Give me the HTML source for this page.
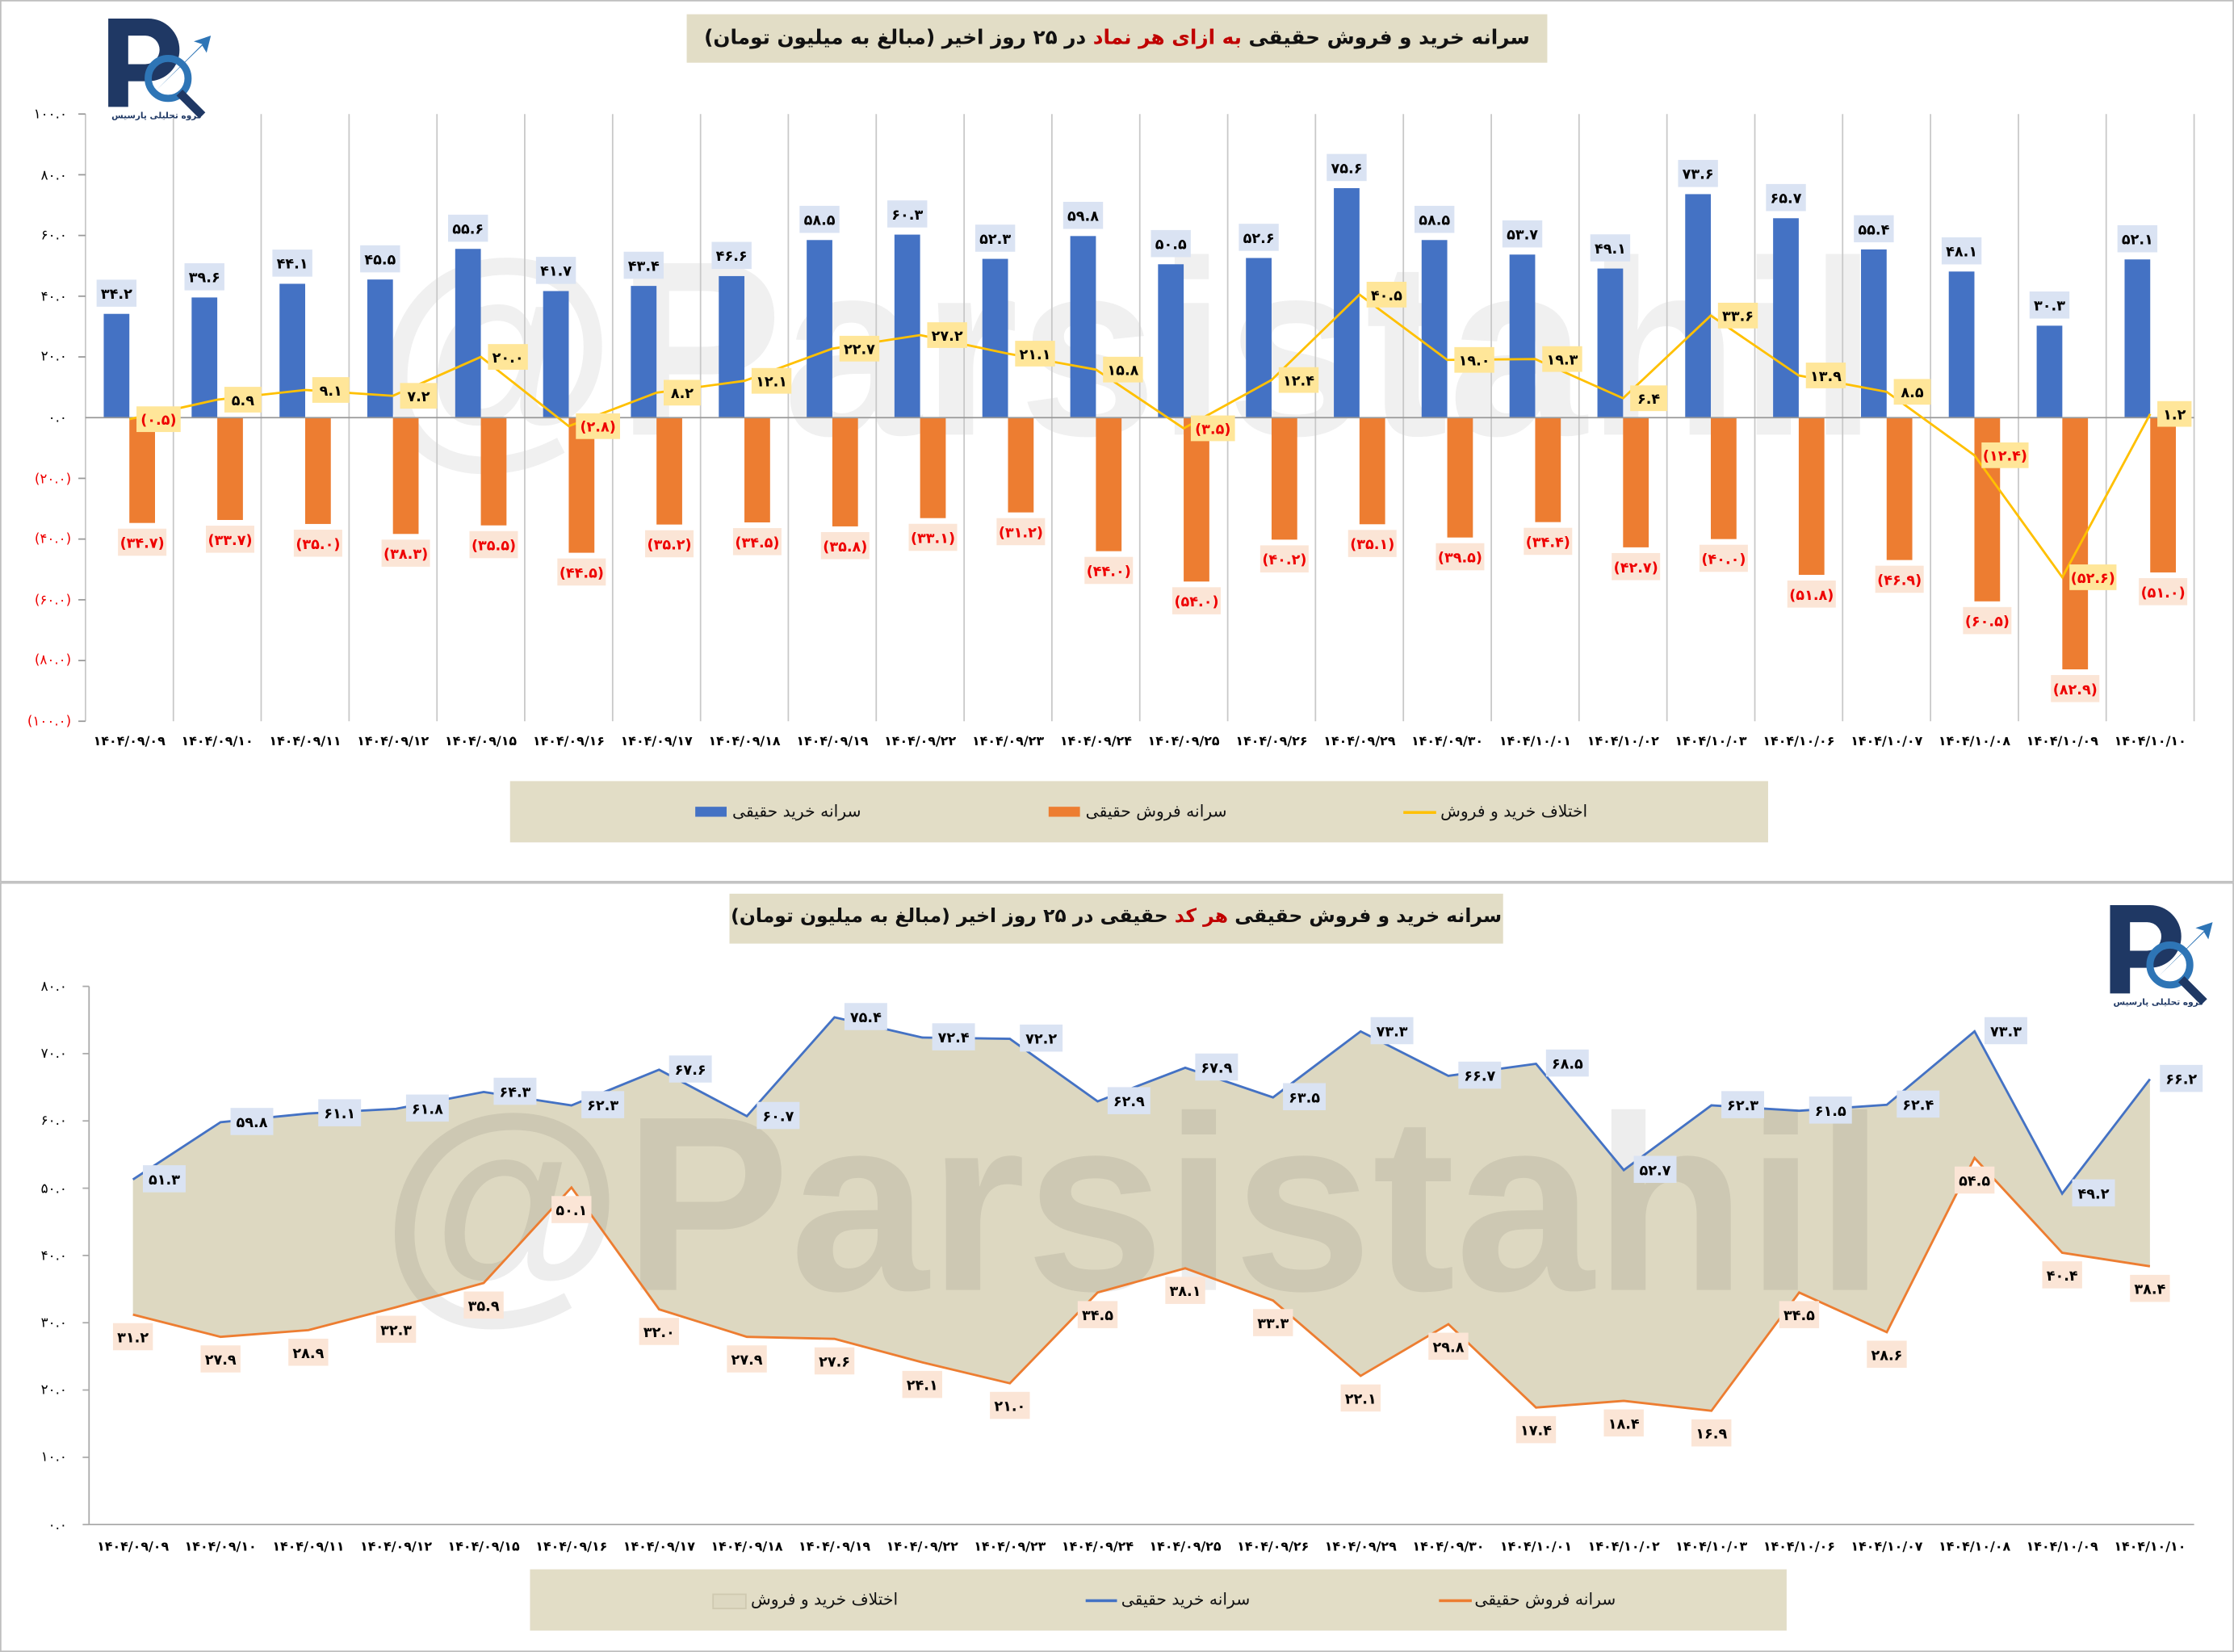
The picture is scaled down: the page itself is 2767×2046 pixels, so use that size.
<!DOCTYPE html>
<html><head><meta charset="utf-8">
<style>
html,body{margin:0;padding:0;background:#fff;}
#wrap{width:1568px;height:1159px;transform:scale(1.76467,1.76531);transform-origin:0 0;position:relative;overflow:hidden;font-family:"DejaVu Sans",sans-serif;}
svg{position:absolute;left:0;top:0;}
.t{font-family:"DejaVu Sans",sans-serif;font-weight:bold;font-size:10px;text-anchor:middle;}
.d{font-family:"DejaVu Sans",sans-serif;font-weight:bold;font-size:9px;text-anchor:middle;}
.y{font-family:"DejaVu Sans",sans-serif;font-size:9.5px;text-anchor:end;}
.title{position:absolute;background:#e2ddc6;direction:rtl;font-weight:bold;font-size:14px;white-space:nowrap;text-align:center;line-height:34px;color:#111;overflow:hidden;}
.title span{color:#c00000;}
.leg{position:absolute;background:#e2ddc6;}
.li{position:absolute;direction:rtl;font-size:11.5px;color:#111;top:0;line-height:43px;white-space:nowrap;}
</style></head><body><div id="wrap">
<svg width="1568" height="1159" viewBox="0 0 1568 1159">
<rect x="0.5" y="0.5" width="1567" height="618" fill="#fff" stroke="#bfbfbf"/>
<rect x="0.5" y="619.5" width="1567" height="539" fill="#fff" stroke="#bfbfbf"/>
<text x="790" y="305" font-family="Liberation Sans" font-weight="bold" font-size="175" text-anchor="middle" fill="#000" fill-opacity="0.06">@Parsistahil</text>
<g stroke="#c8c8c8" stroke-width="1">
<line x1="60" y1="80" x2="60" y2="506"/><line x1="121.7" y1="80" x2="121.7" y2="506"/><line x1="183.3" y1="80" x2="183.3" y2="506"/><line x1="245" y1="80" x2="245" y2="506"/><line x1="306.7" y1="80" x2="306.7" y2="506"/><line x1="368.3" y1="80" x2="368.3" y2="506"/><line x1="430" y1="80" x2="430" y2="506"/><line x1="491.7" y1="80" x2="491.7" y2="506"/><line x1="553.3" y1="80" x2="553.3" y2="506"/><line x1="615" y1="80" x2="615" y2="506"/><line x1="676.7" y1="80" x2="676.7" y2="506"/><line x1="738.3" y1="80" x2="738.3" y2="506"/><line x1="800" y1="80" x2="800" y2="506"/><line x1="861.7" y1="80" x2="861.7" y2="506"/><line x1="923.3" y1="80" x2="923.3" y2="506"/><line x1="985" y1="80" x2="985" y2="506"/><line x1="1046.7" y1="80" x2="1046.7" y2="506"/><line x1="1108.3" y1="80" x2="1108.3" y2="506"/><line x1="1170" y1="80" x2="1170" y2="506"/><line x1="1231.7" y1="80" x2="1231.7" y2="506"/><line x1="1293.3" y1="80" x2="1293.3" y2="506"/><line x1="1355" y1="80" x2="1355" y2="506"/><line x1="1416.7" y1="80" x2="1416.7" y2="506"/><line x1="1478.3" y1="80" x2="1478.3" y2="506"/><line x1="1540" y1="80" x2="1540" y2="506"/>
</g>
<g stroke="#999" stroke-width="1"><line x1="55" y1="80" x2="60" y2="80"/><line x1="55" y1="122.6" x2="60" y2="122.6"/><line x1="55" y1="165.2" x2="60" y2="165.2"/><line x1="55" y1="207.8" x2="60" y2="207.8"/><line x1="55" y1="250.4" x2="60" y2="250.4"/><line x1="55" y1="335.6" x2="60" y2="335.6"/><line x1="55" y1="378.2" x2="60" y2="378.2"/><line x1="55" y1="420.8" x2="60" y2="420.8"/><line x1="55" y1="463.4" x2="60" y2="463.4"/><line x1="55" y1="506" x2="60" y2="506"/></g>
<g>
<text class="y" x="47" y="83">۱۰۰.۰</text><text class="y" x="47" y="126">۸۰.۰</text><text class="y" x="47" y="168">۶۰.۰</text><text class="y" x="47" y="211">۴۰.۰</text><text class="y" x="47" y="253">۲۰.۰</text><text class="y" x="47" y="296">۰.۰</text>
<text class="y" x="50" y="339" fill="#e00">(۲۰.۰)</text><text class="y" x="50" y="381" fill="#e00">(۴۰.۰)</text><text class="y" x="50" y="424" fill="#e00">(۶۰.۰)</text><text class="y" x="50" y="466" fill="#e00">(۸۰.۰)</text><text class="y" x="50" y="509" fill="#e00">(۱۰۰.۰)</text>
</g>
<g fill="#4472c4">
<rect x="72.8" y="220.2" width="18" height="72.8"/><rect x="134.5" y="208.7" width="18" height="84.3"/><rect x="196.2" y="199.1" width="18" height="93.9"/><rect x="257.8" y="196.1" width="18" height="96.9"/><rect x="319.5" y="174.6" width="18" height="118.4"/><rect x="381.2" y="204.2" width="18" height="88.8"/><rect x="442.8" y="200.6" width="18" height="92.4"/><rect x="504.5" y="193.7" width="18" height="99.3"/><rect x="566.2" y="168.4" width="18" height="124.6"/><rect x="627.8" y="164.6" width="18" height="128.4"/><rect x="689.5" y="181.6" width="18" height="111.4"/><rect x="751.2" y="165.6" width="18" height="127.4"/><rect x="812.8" y="185.4" width="18" height="107.6"/><rect x="874.5" y="181" width="18" height="112"/><rect x="936.2" y="132" width="18" height="161"/><rect x="997.8" y="168.4" width="18" height="124.6"/><rect x="1059.5" y="178.6" width="18" height="114.4"/><rect x="1121.2" y="188.4" width="18" height="104.6"/><rect x="1182.8" y="136.2" width="18" height="156.8"/><rect x="1244.5" y="153.1" width="18" height="139.9"/><rect x="1306.2" y="175" width="18" height="118"/><rect x="1367.8" y="190.5" width="18" height="102.5"/><rect x="1429.5" y="228.5" width="18" height="64.5"/><rect x="1491.2" y="182" width="18" height="111"/>
</g>
<g fill="#ed7d31">
<rect x="90.8" y="293" width="18" height="73.9"/><rect x="152.5" y="293" width="18" height="71.8"/><rect x="214.2" y="293" width="18" height="74.6"/><rect x="275.8" y="293" width="18" height="81.6"/><rect x="337.5" y="293" width="18" height="75.6"/><rect x="399.2" y="293" width="18" height="94.8"/><rect x="460.8" y="293" width="18" height="75"/><rect x="522.5" y="293" width="18" height="73.5"/><rect x="584.2" y="293" width="18" height="76.3"/><rect x="645.8" y="293" width="18" height="70.5"/><rect x="707.5" y="293" width="18" height="66.5"/><rect x="769.2" y="293" width="18" height="93.7"/><rect x="830.8" y="293" width="18" height="115"/><rect x="892.5" y="293" width="18" height="85.6"/><rect x="954.2" y="293" width="18" height="74.8"/><rect x="1015.8" y="293" width="18" height="84.1"/><rect x="1077.5" y="293" width="18" height="73.3"/><rect x="1139.2" y="293" width="18" height="91"/><rect x="1200.8" y="293" width="18" height="85.2"/><rect x="1262.5" y="293" width="18" height="110.3"/><rect x="1324.2" y="293" width="18" height="99.9"/><rect x="1385.8" y="293" width="18" height="128.9"/><rect x="1447.5" y="293" width="18" height="176.6"/><rect x="1509.2" y="293" width="18" height="108.6"/>
</g>
<line x1="60" y1="293" x2="1540" y2="293" stroke="#999"/>
<polyline fill="none" stroke="#ffc000" stroke-width="1.6" points="90.8,294.1 152.5,280.4 214.2,273.6 275.8,277.7 337.5,250.4 399.2,299 460.8,275.5 522.5,267.2 584.2,244.6 645.8,235.1 707.5,248.1 769.2,259.3 830.8,300.5 892.5,266.6 954.2,206.7 1015.8,252.5 1077.5,251.9 1139.2,279.4 1200.8,221.4 1262.5,263.4 1324.2,274.9 1385.8,319.4 1447.5,405 1509.2,290.4"/>
<g transform="translate(90.8,0)"><rect x="-23" y="196.2" width="28" height="19" fill="#dae3f3"/><text class="t" x="-9" y="209.5">۳۴.۲</text><rect x="-8" y="370.9" width="34" height="19" fill="#fbe5d6"/><text class="t" x="9" y="384.5" fill="#e00">(۳۴.۷)</text><rect x="5" y="285.1" width="31" height="18" fill="#ffe699"/><text class="t" x="20.5" y="298" fill="#e00">(۰.۵)</text></g>
<g transform="translate(152.5,0)"><rect x="-23" y="184.7" width="28" height="19" fill="#dae3f3"/><text class="t" x="-9" y="198">۳۹.۶</text><rect x="-8" y="368.8" width="34" height="19" fill="#fbe5d6"/><text class="t" x="9" y="382.5" fill="#e00">(۳۳.۷)</text><rect x="5" y="271.4" width="26" height="18" fill="#ffe699"/><text class="t" x="18" y="284.3">۵.۹</text></g>
<g transform="translate(214.2,0)"><rect x="-23" y="175.1" width="28" height="19" fill="#dae3f3"/><text class="t" x="-9" y="188.5">۴۴.۱</text><rect x="-8" y="371.6" width="34" height="19" fill="#fbe5d6"/><text class="t" x="9" y="385.1" fill="#e00">(۳۵.۰)</text><rect x="5" y="264.6" width="26" height="18" fill="#ffe699"/><text class="t" x="18" y="277.5">۹.۱</text></g>
<g transform="translate(275.8,0)"><rect x="-23" y="172.1" width="28" height="19" fill="#dae3f3"/><text class="t" x="-9" y="185.5">۴۵.۵</text><rect x="-8" y="378.6" width="34" height="19" fill="#fbe5d6"/><text class="t" x="9" y="392.1" fill="#e00">(۳۸.۳)</text><rect x="5" y="268.7" width="26" height="18" fill="#ffe699"/><text class="t" x="18" y="281.5">۷.۲</text></g>
<g transform="translate(337.5,0)"><rect x="-23" y="150.6" width="28" height="19" fill="#dae3f3"/><text class="t" x="-9" y="164">۵۵.۶</text><rect x="-8" y="372.6" width="34" height="19" fill="#fbe5d6"/><text class="t" x="9" y="386.1" fill="#e00">(۳۵.۵)</text><rect x="5" y="241.4" width="28" height="18" fill="#ffe699"/><text class="t" x="19" y="254.3">۲۰.۰</text></g>
<g transform="translate(399.2,0)"><rect x="-23" y="180.2" width="28" height="19" fill="#dae3f3"/><text class="t" x="-9" y="193.5">۴۱.۷</text><rect x="-8" y="391.8" width="34" height="19" fill="#fbe5d6"/><text class="t" x="9" y="405.3" fill="#e00">(۴۴.۵)</text><rect x="5" y="290" width="31" height="18" fill="#ffe699"/><text class="t" x="20.5" y="302.9" fill="#e00">(۲.۸)</text></g>
<g transform="translate(460.8,0)"><rect x="-23" y="176.6" width="28" height="19" fill="#dae3f3"/><text class="t" x="-9" y="190">۴۳.۴</text><rect x="-8" y="372" width="34" height="19" fill="#fbe5d6"/><text class="t" x="9" y="385.5" fill="#e00">(۳۵.۲)</text><rect x="5" y="266.5" width="26" height="18" fill="#ffe699"/><text class="t" x="18" y="279.4">۸.۲</text></g>
<g transform="translate(522.5,0)"><rect x="-23" y="169.7" width="28" height="19" fill="#dae3f3"/><text class="t" x="-9" y="183">۴۶.۶</text><rect x="-8" y="370.5" width="34" height="19" fill="#fbe5d6"/><text class="t" x="9" y="384" fill="#e00">(۳۴.۵)</text><rect x="5" y="258.2" width="28" height="18" fill="#ffe699"/><text class="t" x="19" y="271.1">۱۲.۱</text></g>
<g transform="translate(584.2,0)"><rect x="-23" y="144.4" width="28" height="19" fill="#dae3f3"/><text class="t" x="-9" y="157.8">۵۸.۵</text><rect x="-8" y="373.3" width="34" height="19" fill="#fbe5d6"/><text class="t" x="9" y="386.8" fill="#e00">(۳۵.۸)</text><rect x="5" y="235.6" width="28" height="18" fill="#ffe699"/><text class="t" x="19" y="248.5">۲۲.۷</text></g>
<g transform="translate(645.8,0)"><rect x="-23" y="140.6" width="28" height="19" fill="#dae3f3"/><text class="t" x="-9" y="154">۶۰.۳</text><rect x="-8" y="367.5" width="34" height="19" fill="#fbe5d6"/><text class="t" x="9" y="381" fill="#e00">(۳۳.۱)</text><rect x="5" y="226.1" width="28" height="18" fill="#ffe699"/><text class="t" x="19" y="239">۲۷.۲</text></g>
<g transform="translate(707.5,0)"><rect x="-23" y="157.6" width="28" height="19" fill="#dae3f3"/><text class="t" x="-9" y="171">۵۲.۳</text><rect x="-8" y="363.5" width="34" height="19" fill="#fbe5d6"/><text class="t" x="9" y="377" fill="#e00">(۳۱.۲)</text><rect x="5" y="239.1" width="28" height="18" fill="#ffe699"/><text class="t" x="19" y="252">۲۱.۱</text></g>
<g transform="translate(769.2,0)"><rect x="-23" y="141.6" width="28" height="19" fill="#dae3f3"/><text class="t" x="-9" y="155">۵۹.۸</text><rect x="-8" y="390.7" width="34" height="19" fill="#fbe5d6"/><text class="t" x="9" y="404.2" fill="#e00">(۴۴.۰)</text><rect x="5" y="250.3" width="28" height="18" fill="#ffe699"/><text class="t" x="19" y="263.2">۱۵.۸</text></g>
<g transform="translate(830.8,0)"><rect x="-23" y="161.4" width="28" height="19" fill="#dae3f3"/><text class="t" x="-9" y="174.8">۵۰.۵</text><rect x="-8" y="412" width="34" height="19" fill="#fbe5d6"/><text class="t" x="9" y="425.5" fill="#e00">(۵۴.۰)</text><rect x="5" y="291.5" width="31" height="18" fill="#ffe699"/><text class="t" x="20.5" y="304.4" fill="#e00">(۳.۵)</text></g>
<g transform="translate(892.5,0)"><rect x="-23" y="157" width="28" height="19" fill="#dae3f3"/><text class="t" x="-9" y="170.5">۵۲.۶</text><rect x="-8" y="382.6" width="34" height="19" fill="#fbe5d6"/><text class="t" x="9" y="396.1" fill="#e00">(۴۰.۲)</text><rect x="5" y="257.6" width="28" height="18" fill="#ffe699"/><text class="t" x="19" y="270.5">۱۲.۴</text></g>
<g transform="translate(954.2,0)"><rect x="-23" y="108" width="28" height="19" fill="#dae3f3"/><text class="t" x="-9" y="121.5">۷۵.۶</text><rect x="-8" y="371.8" width="34" height="19" fill="#fbe5d6"/><text class="t" x="9" y="385.3" fill="#e00">(۳۵.۱)</text><rect x="5" y="197.7" width="28" height="18" fill="#ffe699"/><text class="t" x="19" y="210.6">۴۰.۵</text></g>
<g transform="translate(1015.8,0)"><rect x="-23" y="144.4" width="28" height="19" fill="#dae3f3"/><text class="t" x="-9" y="157.8">۵۸.۵</text><rect x="-8" y="381.1" width="34" height="19" fill="#fbe5d6"/><text class="t" x="9" y="394.6" fill="#e00">(۳۹.۵)</text><rect x="5" y="243.5" width="28" height="18" fill="#ffe699"/><text class="t" x="19" y="256.4">۱۹.۰</text></g>
<g transform="translate(1077.5,0)"><rect x="-23" y="154.6" width="28" height="19" fill="#dae3f3"/><text class="t" x="-9" y="168">۵۳.۷</text><rect x="-8" y="370.3" width="34" height="19" fill="#fbe5d6"/><text class="t" x="9" y="383.8" fill="#e00">(۳۴.۴)</text><rect x="5" y="242.9" width="28" height="18" fill="#ffe699"/><text class="t" x="19" y="255.8">۱۹.۳</text></g>
<g transform="translate(1139.2,0)"><rect x="-23" y="164.4" width="28" height="19" fill="#dae3f3"/><text class="t" x="-9" y="177.8">۴۹.۱</text><rect x="-8" y="388" width="34" height="19" fill="#fbe5d6"/><text class="t" x="9" y="401.5" fill="#e00">(۴۲.۷)</text><rect x="5" y="270.4" width="26" height="18" fill="#ffe699"/><text class="t" x="18" y="283.3">۶.۴</text></g>
<g transform="translate(1200.8,0)"><rect x="-23" y="112.2" width="28" height="19" fill="#dae3f3"/><text class="t" x="-9" y="125.5">۷۳.۶</text><rect x="-8" y="382.2" width="34" height="19" fill="#fbe5d6"/><text class="t" x="9" y="395.7" fill="#e00">(۴۰.۰)</text><rect x="5" y="212.4" width="28" height="18" fill="#ffe699"/><text class="t" x="19" y="225.3">۳۳.۶</text></g>
<g transform="translate(1262.5,0)"><rect x="-23" y="129.1" width="28" height="19" fill="#dae3f3"/><text class="t" x="-9" y="142.5">۶۵.۷</text><rect x="-8" y="407.3" width="34" height="19" fill="#fbe5d6"/><text class="t" x="9" y="420.8" fill="#e00">(۵۱.۸)</text><rect x="5" y="254.4" width="28" height="18" fill="#ffe699"/><text class="t" x="19" y="267.3">۱۳.۹</text></g>
<g transform="translate(1324.2,0)"><rect x="-23" y="151" width="28" height="19" fill="#dae3f3"/><text class="t" x="-9" y="164.5">۵۵.۴</text><rect x="-8" y="396.9" width="34" height="19" fill="#fbe5d6"/><text class="t" x="9" y="410.4" fill="#e00">(۴۶.۹)</text><rect x="5" y="265.9" width="26" height="18" fill="#ffe699"/><text class="t" x="18" y="278.8">۸.۵</text></g>
<g transform="translate(1385.8,0)"><rect x="-23" y="166.5" width="28" height="19" fill="#dae3f3"/><text class="t" x="-9" y="179.9">۴۸.۱</text><rect x="-8" y="425.9" width="34" height="19" fill="#fbe5d6"/><text class="t" x="9" y="439.4" fill="#e00">(۶۰.۵)</text><rect x="5" y="310.4" width="33" height="18" fill="#ffe699"/><text class="t" x="21.5" y="323.3" fill="#e00">(۱۲.۴)</text></g>
<g transform="translate(1447.5,0)"><rect x="-23" y="204.5" width="28" height="19" fill="#dae3f3"/><text class="t" x="-9" y="217.9">۳۰.۳</text><rect x="-8" y="473.6" width="34" height="19" fill="#fbe5d6"/><text class="t" x="9" y="487.1" fill="#e00">(۸۲.۹)</text><rect x="5" y="396" width="33" height="18" fill="#ffe699"/><text class="t" x="21.5" y="408.9" fill="#e00">(۵۲.۶)</text></g>
<g transform="translate(1509.2,0)"><rect x="-23" y="158" width="28" height="19" fill="#dae3f3"/><text class="t" x="-9" y="171.5">۵۲.۱</text><rect x="-8" y="405.6" width="34" height="19" fill="#fbe5d6"/><text class="t" x="9" y="419.1" fill="#e00">(۵۱.۰)</text><rect x="5" y="281.4" width="24" height="18" fill="#ffe699"/><text class="t" x="17" y="294.3">۱.۲</text></g>
<g>
<text class="d" x="90.8" y="523">۱۴۰۴/۰۹/۰۹</text><text class="d" x="152.5" y="523">۱۴۰۴/۰۹/۱۰</text><text class="d" x="214.2" y="523">۱۴۰۴/۰۹/۱۱</text><text class="d" x="275.8" y="523">۱۴۰۴/۰۹/۱۲</text><text class="d" x="337.5" y="523">۱۴۰۴/۰۹/۱۵</text><text class="d" x="399.2" y="523">۱۴۰۴/۰۹/۱۶</text><text class="d" x="460.8" y="523">۱۴۰۴/۰۹/۱۷</text><text class="d" x="522.5" y="523">۱۴۰۴/۰۹/۱۸</text><text class="d" x="584.2" y="523">۱۴۰۴/۰۹/۱۹</text><text class="d" x="645.8" y="523">۱۴۰۴/۰۹/۲۲</text><text class="d" x="707.5" y="523">۱۴۰۴/۰۹/۲۳</text><text class="d" x="769.2" y="523">۱۴۰۴/۰۹/۲۴</text><text class="d" x="830.8" y="523">۱۴۰۴/۰۹/۲۵</text><text class="d" x="892.5" y="523">۱۴۰۴/۰۹/۲۶</text><text class="d" x="954.2" y="523">۱۴۰۴/۰۹/۲۹</text><text class="d" x="1015.8" y="523">۱۴۰۴/۰۹/۳۰</text><text class="d" x="1077.5" y="523">۱۴۰۴/۱۰/۰۱</text><text class="d" x="1139.2" y="523">۱۴۰۴/۱۰/۰۲</text><text class="d" x="1200.8" y="523">۱۴۰۴/۱۰/۰۳</text><text class="d" x="1262.5" y="523">۱۴۰۴/۱۰/۰۶</text><text class="d" x="1324.2" y="523">۱۴۰۴/۱۰/۰۷</text><text class="d" x="1385.8" y="523">۱۴۰۴/۱۰/۰۸</text><text class="d" x="1447.5" y="523">۱۴۰۴/۱۰/۰۹</text><text class="d" x="1509.2" y="523">۱۴۰۴/۱۰/۱۰</text>
</g>

<polygon fill="#ddd8c1" points="93.3,827.5 154.8,787.3 216.4,781.2 278,777.9 339.5,766.1 401.1,775.5 462.6,750.5 524.2,783.1 585.7,713.7 647.3,727.9 708.8,728.8 770.4,772.7 831.9,749.1 893.5,769.9 955,723.6 1016.6,754.8 1078.1,746.3 1139.7,820.9 1201.2,775.5 1262.8,779.3 1324.3,775.1 1385.9,723.6 1447.4,837.4 1509,757.1 1509,888.4 1447.4,878.9 1385.9,812.4 1324.3,934.6 1262.8,906.8 1201.2,989.8 1139.7,982.8 1078.1,987.5 1016.6,929 955,965.3 893.5,912.4 831.9,889.8 770.4,906.8 708.8,970.5 647.3,955.8 585.7,939.3 524.2,937.9 462.6,918.6 401.1,833.1 339.5,900.1 278,917.1 216.4,933.2 154.8,937.9 93.3,922.3"/>
<text x="795" y="905" font-family="Liberation Sans" font-weight="bold" font-size="175" text-anchor="middle" fill="#000" fill-opacity="0.07">@Parsistahil</text>
<polyline fill="none" stroke="#4472c4" stroke-width="1.6" points="93.3,827.5 154.8,787.3 216.4,781.2 278,777.9 339.5,766.1 401.1,775.5 462.6,750.5 524.2,783.1 585.7,713.7 647.3,727.9 708.8,728.8 770.4,772.7 831.9,749.1 893.5,769.9 955,723.6 1016.6,754.8 1078.1,746.3 1139.7,820.9 1201.2,775.5 1262.8,779.3 1324.3,775.1 1385.9,723.6 1447.4,837.4 1509,757.1"/>
<polyline fill="none" stroke="#ed7d31" stroke-width="1.6" points="93.3,922.3 154.8,937.9 216.4,933.2 278,917.1 339.5,900.1 401.1,833.1 462.6,918.6 524.2,937.9 585.7,939.3 647.3,955.8 708.8,970.5 770.4,906.8 831.9,889.8 893.5,912.4 955,965.3 1016.6,929 1078.1,987.5 1139.7,982.8 1201.2,989.8 1262.8,906.8 1324.3,934.6 1385.9,812.4 1447.4,878.9 1509,888.4"/>
<g stroke="#aaa"><line x1="62.5" y1="692" x2="62.5" y2="1069.6"/><line x1="62.5" y1="1069.6" x2="1540" y2="1069.6"/>
<line x1="58" y1="692" x2="62.5" y2="692"/><line x1="58" y1="739.2" x2="62.5" y2="739.2"/><line x1="58" y1="786.4" x2="62.5" y2="786.4"/><line x1="58" y1="833.6" x2="62.5" y2="833.6"/><line x1="58" y1="880.8" x2="62.5" y2="880.8"/><line x1="58" y1="928" x2="62.5" y2="928"/><line x1="58" y1="975.2" x2="62.5" y2="975.2"/><line x1="58" y1="1022.4" x2="62.5" y2="1022.4"/><line x1="58" y1="1069.6" x2="62.5" y2="1069.6"/></g>
<g>
<text class="y" x="47" y="695">۸۰.۰</text><text class="y" x="47" y="742">۷۰.۰</text><text class="y" x="47" y="789">۶۰.۰</text><text class="y" x="47" y="837">۵۰.۰</text><text class="y" x="47" y="884">۴۰.۰</text><text class="y" x="47" y="931">۳۰.۰</text><text class="y" x="47" y="978">۲۰.۰</text><text class="y" x="47" y="1025">۱۰.۰</text><text class="y" x="47" y="1073">۰.۰</text>
</g>
<g transform="translate(93.3,0)"><rect x="7" y="817.5" width="30" height="19" fill="#dae3f3"/><text class="t" x="22" y="831">۵۱.۳</text><rect x="-14" y="928.3" width="28" height="19" fill="#fbe5d6"/><text class="t" x="0" y="941.8">۳۱.۲</text></g>
<g transform="translate(154.8,0)"><rect x="7" y="777.3" width="30" height="19" fill="#dae3f3"/><text class="t" x="22" y="790.8">۵۹.۸</text><rect x="-14" y="943.9" width="28" height="19" fill="#fbe5d6"/><text class="t" x="0" y="957.4">۲۷.۹</text></g>
<g transform="translate(216.4,0)"><rect x="7" y="771.2" width="30" height="19" fill="#dae3f3"/><text class="t" x="22" y="784.7">۶۱.۱</text><rect x="-14" y="939.2" width="28" height="19" fill="#fbe5d6"/><text class="t" x="0" y="952.7">۲۸.۹</text></g>
<g transform="translate(278,0)"><rect x="7" y="767.9" width="30" height="19" fill="#dae3f3"/><text class="t" x="22" y="781.4">۶۱.۸</text><rect x="-14" y="923.1" width="28" height="19" fill="#fbe5d6"/><text class="t" x="0" y="936.6">۳۲.۳</text></g>
<g transform="translate(339.5,0)"><rect x="7" y="756.1" width="30" height="19" fill="#dae3f3"/><text class="t" x="22" y="769.6">۶۴.۳</text><rect x="-14" y="906.1" width="28" height="19" fill="#fbe5d6"/><text class="t" x="0" y="919.6">۳۵.۹</text></g>
<g transform="translate(401.1,0)"><rect x="7" y="765.5" width="30" height="19" fill="#dae3f3"/><text class="t" x="22" y="779">۶۲.۳</text><rect x="-14" y="839.1" width="28" height="19" fill="#fbe5d6"/><text class="t" x="0" y="852.6">۵۰.۱</text></g>
<g transform="translate(462.6,0)"><rect x="7" y="740.5" width="30" height="19" fill="#dae3f3"/><text class="t" x="22" y="754">۶۷.۶</text><rect x="-14" y="924.6" width="28" height="19" fill="#fbe5d6"/><text class="t" x="0" y="938.1">۳۲.۰</text></g>
<g transform="translate(524.2,0)"><rect x="7" y="773.1" width="30" height="19" fill="#dae3f3"/><text class="t" x="22" y="786.6">۶۰.۷</text><rect x="-14" y="943.9" width="28" height="19" fill="#fbe5d6"/><text class="t" x="0" y="957.4">۲۷.۹</text></g>
<g transform="translate(585.7,0)"><rect x="7" y="703.7" width="30" height="19" fill="#dae3f3"/><text class="t" x="22" y="717.2">۷۵.۴</text><rect x="-14" y="945.3" width="28" height="19" fill="#fbe5d6"/><text class="t" x="0" y="958.8">۲۷.۶</text></g>
<g transform="translate(647.3,0)"><rect x="7" y="717.9" width="30" height="19" fill="#dae3f3"/><text class="t" x="22" y="731.4">۷۲.۴</text><rect x="-14" y="961.8" width="28" height="19" fill="#fbe5d6"/><text class="t" x="0" y="975.3">۲۴.۱</text></g>
<g transform="translate(708.8,0)"><rect x="7" y="718.8" width="30" height="19" fill="#dae3f3"/><text class="t" x="22" y="732.3">۷۲.۲</text><rect x="-14" y="976.5" width="28" height="19" fill="#fbe5d6"/><text class="t" x="0" y="990">۲۱.۰</text></g>
<g transform="translate(770.4,0)"><rect x="7" y="762.7" width="30" height="19" fill="#dae3f3"/><text class="t" x="22" y="776.2">۶۲.۹</text><rect x="-14" y="912.8" width="28" height="19" fill="#fbe5d6"/><text class="t" x="0" y="926.3">۳۴.۵</text></g>
<g transform="translate(831.9,0)"><rect x="7" y="739.1" width="30" height="19" fill="#dae3f3"/><text class="t" x="22" y="752.6">۶۷.۹</text><rect x="-14" y="895.8" width="28" height="19" fill="#fbe5d6"/><text class="t" x="0" y="909.3">۳۸.۱</text></g>
<g transform="translate(893.5,0)"><rect x="7" y="759.9" width="30" height="19" fill="#dae3f3"/><text class="t" x="22" y="773.4">۶۳.۵</text><rect x="-14" y="918.4" width="28" height="19" fill="#fbe5d6"/><text class="t" x="0" y="931.9">۳۳.۳</text></g>
<g transform="translate(955,0)"><rect x="7" y="713.6" width="30" height="19" fill="#dae3f3"/><text class="t" x="22" y="727.1">۷۳.۳</text><rect x="-14" y="971.3" width="28" height="19" fill="#fbe5d6"/><text class="t" x="0" y="984.8">۲۲.۱</text></g>
<g transform="translate(1016.6,0)"><rect x="7" y="744.8" width="30" height="19" fill="#dae3f3"/><text class="t" x="22" y="758.3">۶۶.۷</text><rect x="-14" y="935" width="28" height="19" fill="#fbe5d6"/><text class="t" x="0" y="948.5">۲۹.۸</text></g>
<g transform="translate(1078.1,0)"><rect x="7" y="736.3" width="30" height="19" fill="#dae3f3"/><text class="t" x="22" y="749.8">۶۸.۵</text><rect x="-14" y="993.5" width="28" height="19" fill="#fbe5d6"/><text class="t" x="0" y="1007">۱۷.۴</text></g>
<g transform="translate(1139.7,0)"><rect x="7" y="810.9" width="30" height="19" fill="#dae3f3"/><text class="t" x="22" y="824.4">۵۲.۷</text><rect x="-14" y="988.8" width="28" height="19" fill="#fbe5d6"/><text class="t" x="0" y="1002.3">۱۸.۴</text></g>
<g transform="translate(1201.2,0)"><rect x="7" y="765.5" width="30" height="19" fill="#dae3f3"/><text class="t" x="22" y="779">۶۲.۳</text><rect x="-14" y="995.8" width="28" height="19" fill="#fbe5d6"/><text class="t" x="0" y="1009.3">۱۶.۹</text></g>
<g transform="translate(1262.8,0)"><rect x="7" y="769.3" width="30" height="19" fill="#dae3f3"/><text class="t" x="22" y="782.8">۶۱.۵</text><rect x="-14" y="912.8" width="28" height="19" fill="#fbe5d6"/><text class="t" x="0" y="926.3">۳۴.۵</text></g>
<g transform="translate(1324.3,0)"><rect x="7" y="765.1" width="30" height="19" fill="#dae3f3"/><text class="t" x="22" y="778.6">۶۲.۴</text><rect x="-14" y="940.6" width="28" height="19" fill="#fbe5d6"/><text class="t" x="0" y="954.1">۲۸.۶</text></g>
<g transform="translate(1385.9,0)"><rect x="7" y="713.6" width="30" height="19" fill="#dae3f3"/><text class="t" x="22" y="727.1">۷۳.۳</text><rect x="-14" y="818.4" width="28" height="19" fill="#fbe5d6"/><text class="t" x="0" y="831.9">۵۴.۵</text></g>
<g transform="translate(1447.4,0)"><rect x="7" y="827.4" width="30" height="19" fill="#dae3f3"/><text class="t" x="22" y="840.9">۴۹.۲</text><rect x="-14" y="884.9" width="28" height="19" fill="#fbe5d6"/><text class="t" x="0" y="898.4">۴۰.۴</text></g>
<g transform="translate(1509,0)"><rect x="7" y="747.1" width="30" height="19" fill="#dae3f3"/><text class="t" x="22" y="760.6">۶۶.۲</text><rect x="-14" y="894.4" width="28" height="19" fill="#fbe5d6"/><text class="t" x="0" y="907.9">۳۸.۴</text></g>
<g>
<text class="d" x="93.3" y="1088">۱۴۰۴/۰۹/۰۹</text><text class="d" x="154.8" y="1088">۱۴۰۴/۰۹/۱۰</text><text class="d" x="216.4" y="1088">۱۴۰۴/۰۹/۱۱</text><text class="d" x="278" y="1088">۱۴۰۴/۰۹/۱۲</text><text class="d" x="339.5" y="1088">۱۴۰۴/۰۹/۱۵</text><text class="d" x="401.1" y="1088">۱۴۰۴/۰۹/۱۶</text><text class="d" x="462.6" y="1088">۱۴۰۴/۰۹/۱۷</text><text class="d" x="524.2" y="1088">۱۴۰۴/۰۹/۱۸</text><text class="d" x="585.7" y="1088">۱۴۰۴/۰۹/۱۹</text><text class="d" x="647.3" y="1088">۱۴۰۴/۰۹/۲۲</text><text class="d" x="708.8" y="1088">۱۴۰۴/۰۹/۲۳</text><text class="d" x="770.4" y="1088">۱۴۰۴/۰۹/۲۴</text><text class="d" x="831.9" y="1088">۱۴۰۴/۰۹/۲۵</text><text class="d" x="893.5" y="1088">۱۴۰۴/۰۹/۲۶</text><text class="d" x="955" y="1088">۱۴۰۴/۰۹/۲۹</text><text class="d" x="1016.6" y="1088">۱۴۰۴/۰۹/۳۰</text><text class="d" x="1078.1" y="1088">۱۴۰۴/۱۰/۰۱</text><text class="d" x="1139.7" y="1088">۱۴۰۴/۱۰/۰۲</text><text class="d" x="1201.2" y="1088">۱۴۰۴/۱۰/۰۳</text><text class="d" x="1262.8" y="1088">۱۴۰۴/۱۰/۰۶</text><text class="d" x="1324.3" y="1088">۱۴۰۴/۱۰/۰۷</text><text class="d" x="1385.9" y="1088">۱۴۰۴/۱۰/۰۸</text><text class="d" x="1447.4" y="1088">۱۴۰۴/۱۰/۰۹</text><text class="d" x="1509" y="1088">۱۴۰۴/۱۰/۱۰</text>
</g>
<g transform="translate(76,13)">
<path d="M0,0 h28 a22,22 0 0 1 0,44 h-14 v18 h-14z M14,12 v20 h12 a10,10 0 0 0 0,-20z" fill="#1f3864"/>
<circle cx="42" cy="42" r="14" fill="none" stroke="#2e75b6" stroke-width="5"/>
<path d="M50,52 l16,16" stroke="#1f3864" stroke-width="6"/>
<path d="M34,50 L66,18 l-6,-2 l12,-4 l-3,12 l-3,-5 z" fill="#2e75b6"/>
<text x="34" y="70" font-size="6" font-weight="bold" fill="#1f3864" text-anchor="middle" font-family="DejaVu Sans">گروه تحلیلی پارسیس</text>
</g>
<g transform="translate(1481,635)">
<path d="M0,0 h28 a22,22 0 0 1 0,44 h-14 v18 h-14z M14,12 v20 h12 a10,10 0 0 0 0,-20z" fill="#1f3864"/>
<circle cx="42" cy="42" r="14" fill="none" stroke="#2e75b6" stroke-width="5"/>
<path d="M50,52 l16,16" stroke="#1f3864" stroke-width="6"/>
<path d="M34,50 L66,18 l-6,-2 l12,-4 l-3,12 l-3,-5 z" fill="#2e75b6"/>
<text x="34" y="70" font-size="6" font-weight="bold" fill="#1f3864" text-anchor="middle" font-family="DejaVu Sans">گروه تحلیلی پارسیس</text>
</g>
</svg>
<div class="title" style="left:482px;top:10px;width:604px;height:34px;">سرانه خرید و فروش حقیقی <span>به ازای هر نماد</span> در ۲۵ روز اخیر (مبالغ به میلیون تومان)</div>
<div class="title" style="left:512px;top:627px;width:543px;height:35px;font-size:13.3px;">سرانه خرید و فروش حقیقی <span>هر کد</span> حقیقی در ۲۵ روز اخیر (مبالغ به میلیون تومان)</div>
<div class="leg" style="left:358px;top:548px;width:883px;height:43px;">
<div style="position:absolute;left:130px;top:18px;width:22px;height:7px;background:#4472c4"></div><div class="li" style="left:156px;">سرانه خرید حقیقی</div>
<div style="position:absolute;left:378px;top:18px;width:22px;height:7px;background:#ed7d31"></div><div class="li" style="left:404px;">سرانه فروش حقیقی</div>
<div style="position:absolute;left:627px;top:21px;width:23px;height:2px;background:#ffc000"></div><div class="li" style="left:653px;">اختلاف خرید و فروش</div>
</div>
<div class="leg" style="left:372px;top:1101px;width:882px;height:43px;">
<div style="position:absolute;left:128px;top:17px;width:22px;height:9px;background:#ddd8c1;border:1px solid #cfc9b0"></div><div class="li" style="left:155px;">اختلاف خرید و فروش</div>
<div style="position:absolute;left:390px;top:21px;width:22px;height:2px;background:#4472c4"></div><div class="li" style="left:415px;">سرانه خرید حقیقی</div>
<div style="position:absolute;left:638px;top:21px;width:23px;height:2px;background:#ed7d31"></div><div class="li" style="left:663px;">سرانه فروش حقیقی</div>
</div>
</div></body></html>
